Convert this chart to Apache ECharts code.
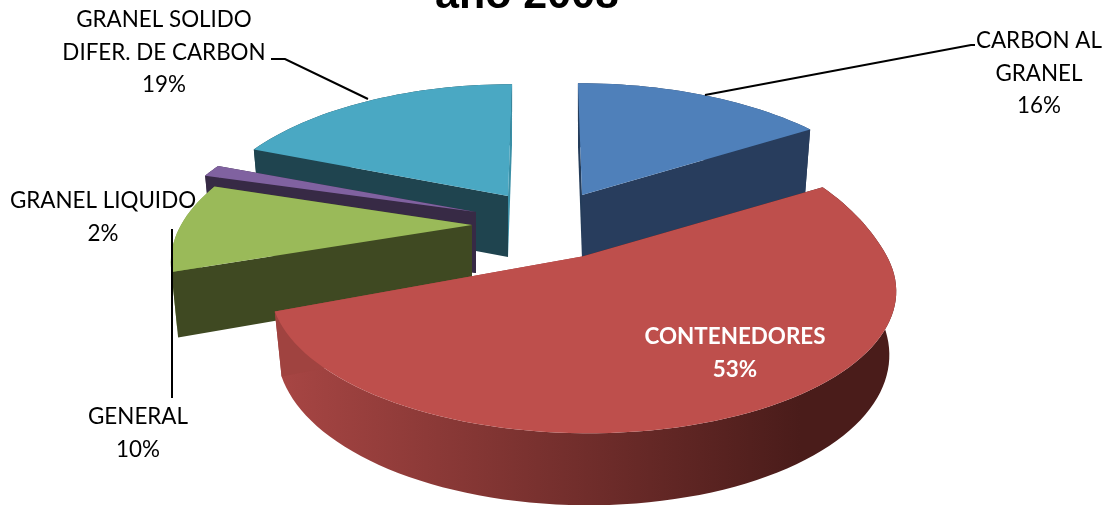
<!DOCTYPE html>
<html>
<head>
<meta charset="utf-8">
<style>html,body{margin:0;padding:0;background:#fff}#c{width:1104px;height:505px}</style>
<script src="https://cdn.jsdelivr.net/npm/echarts@6/dist/echarts.min.js"></script>
</head>
<body>
<div id="c"></div>
<script>
// ---- data ----
var categories = ['CARBON AL GRANEL', 'CONTENEDORES', 'GENERAL', 'GRANEL LIQUIDO', 'GRANEL SOLIDO DIFER. DE CARBON'];
var values = [16, 53, 10, 2, 19];
var labelLines = [['CARBON AL', 'GRANEL'], ['CONTENEDORES'], ['GENERAL'], ['GRANEL LIQUIDO'], ['GRANEL SOLIDO', 'DIFER. DE CARBON']];
var titleText = 'año 2008';

// ---- 3D look (not data) ----
var paintOrder = [4, 0, 3, 2, 1];
var look = [
  {ax: 582, ay: 195, R: 306, back: 0, turn: 0, trim: 0, depth: 64, top: '#4F80BA', faceA: '#243C5A', faceB: '#283D5D', rim: '#283D5D', endInFront: true},
  {ax: 582, ay: 256.5, R: 305, back: 0.2, turn: 0, trim: 0, depth: 61, top: '#BE4F4C', faceA: '#4A1C1A', faceB: '#A04340',
    rim: {type: 'linear', global: true, x: 276, y: 0, x2: 800, y2: 0, colorStops: [{offset: 0, color: '#A84644'}, {offset: 1, color: '#4A1C1A'}]}},
  {ax: 472, ay: 225, R: 291, back: 0, turn: 3, trim: 0, depth: 62, top: '#9ABA59', faceA: '#3F4922', faceB: '#3F4922', rim: '#7F9A48'},
  {ax: 476, ay: 212, R: 303, back: 0, turn: 2, trim: 2.3, depth: 61, top: '#8062A0', faceA: '#372A45', faceB: '#372A45', rim: '#372A45'},
  {ax: 508, ay: 196, R: 298, back: 0, turn: 0, trim: 0, depth: 61, top: '#4AA8C3', faceA: '#1F444F', faceB: '#3A8FA6', rim: '#1F444F'}
];
var labelLayout = [
  {x: 1039, y: 41, color: '#000', weight: 'normal', lead: [[705, 95], [971, 45], [975, 45]]},
  {x: 735, y: 337, color: '#fff', weight: 'bold', lead: null},
  {x: 138, y: 417, color: '#000', weight: 'normal', lead: [[172, 229], [172, 398]]},
  {x: 103, y: 201, color: '#000', weight: 'normal', lead: null},
  {x: 164, y: 20, color: '#000', weight: 'normal', lead: [[368, 99], [285, 59], [271, 59]]}
];
var K = 0.225, TILT = 137, X0 = 545, LEAN = 0.6;

var total = values.reduce(function (a, b) { return a + b; }, 0);
var starts = [];
values.reduce(function (acc, v, i) { starts[i] = acc; return acc + v; }, 0);

function project(L, deg, bottom) {
  var a = deg * Math.PI / 180, u = Math.sin(a), v = -Math.cos(a);
  var neg = Math.max(0, -v);
  var st = 1 + L.back * neg * neg, s = 1 / (1 - K * v);
  var dx = L.R * st * u * s + (L.ax - X0) * LEAN * (s - 1), dy = TILT * st * v * s;
  if (bottom) return [L.ax + dx * 0.978, L.ay + dy + L.depth + 11 * Math.max(v, 0)];
  return [L.ax + dx, L.ay + dy];
}
function apex(L, bottom) { return [L.ax, L.ay + (bottom ? L.depth : 0)]; }

function renderSlice(params, api) {
  var idx = api.value(0), L = look[idx];
  var a0 = starts[idx] / total * 360 + L.turn, a1 = (starts[idx] + api.value(1)) / total * 360 + L.turn - L.trim;
  var n = Math.max(12, Math.ceil((a1 - a0) / 2)), topArc = [], botArc = [];
  for (var i = 0; i <= n; i++) {
    var d = a0 + (a1 - a0) * i / n;
    topArc.push(project(L, d, false));
    botArc.push(project(L, d, true));
  }
  function poly(points, fill) {
    return {type: 'polygon', shape: {points: points}, style: {fill: fill, stroke: null}};
  }
  var last = topArc.length - 1;
  var startFace = poly([topArc[0], apex(L), apex(L, true), botArc[0]], L.faceA);
  var endFace = poly([topArc[last], apex(L), apex(L, true), botArc[last]], L.faceB);
  var rimPoly = poly(topArc.concat(botArc.slice().reverse()), L.rim);
  var topPoly = poly([apex(L)].concat(topArc), L.top);
  return {type: 'group', children: L.endInFront ? [rimPoly, startFace, endFace, topPoly] : [rimPoly, endFace, startFace, topPoly]};
}

function renderLabel(params, api) {
  var idx = api.value(0), P = labelLayout[idx];
  var text = labelLines[idx].concat([api.value(1) + '%']).join('\n');
  var kids = [{
    type: 'text',
    z2: 10,
    style: {x: P.x, y: P.y - 16, text: text, fill: P.color, align: 'center', verticalAlign: 'top',
      font: P.weight + ' 22.4px Lato', lineHeight: 32.5}
  }];
  if (P.lead) kids.push({type: 'polyline', shape: {points: P.lead}, style: {stroke: '#000', lineWidth: 2, fill: null}});
  return {type: 'group', children: kids};
}

var sliceRows = paintOrder.map(function (i) { return [i, values[i], categories[i]]; });
var labelRows = values.map(function (v, i) { return [i, v, categories[i]]; });

var chart = echarts.init(document.getElementById('c'), null, {renderer: 'canvas'});
chart.setOption({
  animation: false,
  backgroundColor: '#fff',
  title: {text: titleText, left: 522, top: -30, textAlign: 'center',
    textStyle: {fontFamily: 'Liberation Sans', fontWeight: 'bold', fontSize: 43, color: '#000'}},
  series: [
    {type: 'custom', coordinateSystem: 'none', renderItem: renderSlice, data: sliceRows, silent: true, z: 2},
    {type: 'custom', coordinateSystem: 'none', renderItem: renderLabel, data: labelRows, silent: true, z: 3}
  ]
});
</script>
</body>
</html>
